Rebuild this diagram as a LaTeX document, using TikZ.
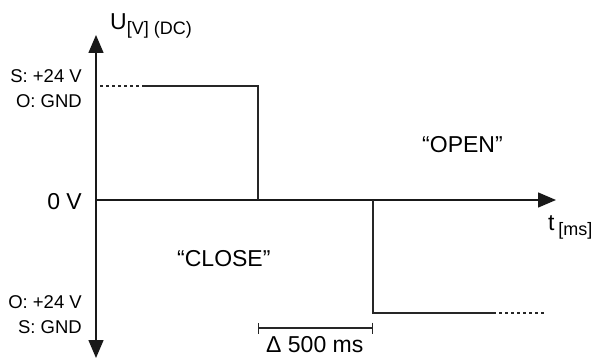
\documentclass[tikz,border=0pt]{standalone}
\usepackage{fontspec}
\setmainfont{Liberation Sans}
\usetikzlibrary{arrows.meta}
\newcommand{\mysub}[1]{\raisebox{-5pt}{\fontsize{18}{20}\selectfont #1}}
\tikzset{
  axis/.style={line width=1.5pt, draw=black!90, >={Triangle[length=18pt,width=15pt]}},
  sig/.style={line width=1.3pt, draw=black!85},
  dots/.style={line width=1.3pt, draw=black!85, dash pattern=on 3pt off 3pt},
  big/.style={inner sep=0pt, font=\fontsize{23}{26}\selectfont},
  small/.style={inner sep=0pt, font=\fontsize{18.5}{22}\selectfont}
}
\begin{document}
\begin{tikzpicture}[x=1pt,y=-1pt]
\useasboundingbox (0,0) rectangle (596,361);
% axes
\coordinate (ytop) at (96,35);
\coordinate (ybot) at (96,358);
\coordinate (o) at (96,200);
\coordinate (xend) at (556,200);
\draw[axis,<->] (ybot) -- (ytop);
\draw[axis,->] (o) -- (xend);
% signal
\coordinate (d1) at (100,86);
\coordinate (s1) at (145,86);
\coordinate (e1) at (258,86);
\coordinate (e1b) at (258,200);
\coordinate (e2) at (373,200);
\coordinate (e2b) at (373,313);
\coordinate (s2) at (493,313);
\coordinate (d2) at (545,313);
\draw[dots] (d1) -- (s1);
\draw[sig] (s1) -- (e1) -- (e1b);
\draw[sig] (e2) -- (e2b) -- (s2);
\draw[dots] (s2) -- (d2);
% scale bar
\coordinate (b1) at (258,328);
\coordinate (b2) at (373,328);
\draw[sig,{Bar[width=11pt]}-{Bar[width=11pt]}] (b1) -- (b2);
% labels
\node[big,anchor=base west] (ulab) at (110,30) {U\mysub{[V] (DC)}};
\node[small,anchor=base east] (sp) at (82,82) {S: +24 V};
\node[small,anchor=base east] (og) at (82,107) {O: GND};
\node[big,anchor=base east] (zero) at (82,209) {0 V};
\node[small,anchor=base east] (op) at (82,308) {O: +24 V};
\node[small,anchor=base east] (sg) at (82,333) {S: GND};
\node[big,anchor=base west] (close) at (177,266) {“CLOSE”};
\node[big,anchor=base west] (open) at (422,152) {“OPEN”};
\node[big,anchor=base west] (tlab) at (548,230) {t\,\mysub{[ms]}};
\node[big,anchor=base west] (dlab) at (266,352) {Δ 500 ms};
\end{tikzpicture}
\end{document}
